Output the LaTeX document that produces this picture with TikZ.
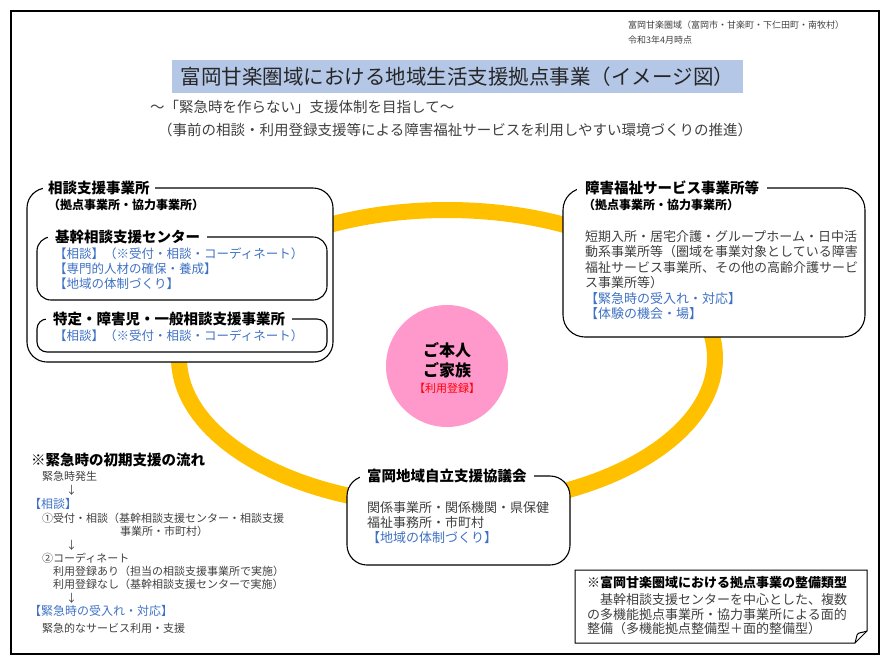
\documentclass[tikz,border=0pt]{standalone}
\usepackage{fontspec}
\setmainfont{Noto Sans CJK JP}
\definecolor{ringgold}{HTML}{FFC000}
\definecolor{personpink}{HTML}{FF99CC}
\definecolor{headblue}{HTML}{B4C7E7}
\definecolor{noteblue}{HTML}{3F72C4}
\definecolor{bodygray}{HTML}{404040}
\tikzset{
  framebox/.style={draw, line width=1.1pt, fill=white},
  bordertitle/.style={fill=white, anchor=west, inner xsep=7pt, inner ysep=1pt, font=\bfseries\fontsize{14.5}{16}\selectfont},
  subhead/.style={anchor=west, inner sep=0pt, font=\bfseries\fontsize{12}{14}\selectfont},
  bodylines/.style={anchor=west, inner sep=0pt, align=left, text=bodygray, font=\fontsize{13}{15.5}\selectfont},
  notelines/.style={bodylines, text=noteblue},
  flowline/.style={anchor=west, inner sep=0pt, text=bodygray, font=\fontsize{11}{13}\selectfont},
  flowstep/.style={anchor=west, inner sep=0pt, text=noteblue, font=\fontsize{12}{14}\selectfont},
}
\begin{document}
\begin{tikzpicture}[x=1pt, y=-1pt]
\useasboundingbox (0,0) rectangle (890,665);
\draw[line width=1.3pt] (11,11) rectangle (879,654);

% header and title
\node[anchor=west, inner sep=0pt, text=bodygray, font=\fontsize{9}{11}\selectfont] (area) at (628,25) {富岡甘楽圏域（富岡市・甘楽町・下仁田町・南牧村）};
\node[anchor=west, inner sep=0pt, text=bodygray, font=\fontsize{9}{11}\selectfont] (date) at (628,40) {令和3年4月時点};
\node[fill=headblue, minimum width=571pt, minimum height=33pt, inner sep=0pt, text=black!85, font=\fontsize{20.5}{22}\selectfont] (title) at (457.5,76.5) {富岡甘楽圏域における地域生活支援拠点事業（イメージ図）};
\node[anchor=west, inner sep=0pt, text=bodygray, font=\fontsize{14.5}{17}\selectfont] (aim) at (150,107) {～「緊急時を作らない」支援体制を目指して～};
\node[anchor=west, inner sep=0pt, text=bodygray, font=\fontsize{14.5}{17}\selectfont] (aimsub) at (158,130) {（事前の相談・利用登録支援等による障害福祉サービスを利用しやすい環境づくりの推進）};

% ring and person
\draw[ringgold, line width=16pt] (447,358) ellipse [x radius=268, y radius=148];
\node[circle, fill=personpink, minimum size=122pt] (person) at (447,366) {};
\node[inner sep=0pt, font=\bfseries\fontsize{16}{18}\selectfont] (self) at (447,350) {ご本人};
\node[inner sep=0pt, font=\bfseries\fontsize{16}{18}\selectfont] (family) at (447,370) {ご家族};
\node[inner sep=0pt, text=red, font=\fontsize{11}{13}\selectfont] (register) at (447,388) {【利用登録】};

% consultation offices
\draw[framebox, rounded corners=20pt] (27,188) rectangle (333,362);
\node[bordertitle, inner xsep=5pt] (consult) at (43,188) {相談支援事業所};
\node[subhead] (consultsub) at (48,205) {（拠点事業所・協力事業所）};
\draw[framebox, rounded corners=14pt] (37,237) rectangle (327,300);
\node[bordertitle] (center) at (48,237) {基幹相談支援センター};
\node[notelines, font=\fontsize{12.5}{15}\selectfont] (centertxt) at (54,269) {【相談】（※受付・相談・コーディネート）\\【専門的人材の確保・養成】\\【地域の体制づくり】};
\draw[framebox, rounded corners=10pt] (37,319) rectangle (327,352);
\node[bordertitle] (general) at (46,319) {特定・障害児・一般相談支援事業所};
\node[notelines, font=\fontsize{12.5}{15}\selectfont] (generaltxt) at (54,336) {【相談】（※受付・相談・コーディネート）};

% welfare service offices
\draw[framebox, rounded corners=22pt] (563,188) rectangle (865,337);
\node[bordertitle, inner xsep=8pt] (service) at (577,188) {障害福祉サービス事業所等};
\node[subhead] (servicesub) at (583,205) {（拠点事業所・協力事業所）};
\node[bodylines] (servicetxt) at (585,259.5) {短期入所・居宅介護・グループホーム・日中活\\動系事業所等（圏域を事業対象としている障害\\福祉サービス事業所、その他の高齢介護サービ\\ス事業所等）};
\node[notelines, font=\fontsize{13}{14.5}\selectfont] (servicenote) at (585,306) {【緊急時の受入れ・対応】\\【体験の機会・場】};

% council
\draw[framebox, rounded corners=20pt] (347,476) rectangle (570,565);
\node[bordertitle] (council) at (360,476) {富岡地域自立支援協議会};
\node[bodylines, font=\fontsize{13}{15}\selectfont] (counciltxt) at (367,523) {関係事業所・関係機関・県保健\\福祉事務所・市町村\\\textcolor{noteblue}{【地域の体制づくり】}};

% emergency flow
\node[anchor=west, inner sep=0pt, font=\bfseries\fontsize{14.5}{16}\selectfont] (flow) at (31,460) {※緊急時の初期支援の流れ};
\node[flowline] (flowa) at (42,476) {緊急時発生};
\node[flowline] (arra) at (66,490) {↓};
\node[flowstep] (flowb) at (29,504) {【相談】};
\node[flowline] (flowc) at (42,518) {①受付・相談（基幹相談支援センター・相談支援};
\node[flowline] (flowd) at (120,531) {事業所・市町村）};
\node[flowline] (arrb) at (66,545) {↓};
\node[flowline] (flowe) at (42,558) {②コーディネート};
\node[flowline] (flowf) at (53,571) {利用登録あり（担当の相談支援事業所で実施）};
\node[flowline] (flowg) at (53,584) {利用登録なし（基幹相談支援センターで実施）};
\node[flowline] (arrc) at (66,598) {↓};
\node[flowstep] (flowh) at (29,611) {【緊急時の受入れ・対応】};
\node[flowline] (flowi) at (42,628) {緊急的なサービス利用・支援};

% development type note
\draw[line width=1pt, fill=white] (575,570) -- (867,570) -- (867,631) -- (855,643) -- (575,643) -- cycle;
\draw[line width=1pt] (867,631) .. controls (862,633) and (858,632) .. (857,635) -- (855,643);
\node[anchor=west, inner sep=0pt, font=\bfseries\fontsize{13}{15}\selectfont] (typehead) at (587,583) {※富岡甘楽圏域における拠点事業の整備類型};
\node[bodylines, font=\fontsize{13}{14.5}\selectfont] (typetxt) at (587,614.5) {　基幹相談支援センターを中心とした、複数\\の多機能拠点事業所・協力事業所による面的\\整備（多機能拠点整備型＋面的整備型）};
\end{tikzpicture}
\end{document}
